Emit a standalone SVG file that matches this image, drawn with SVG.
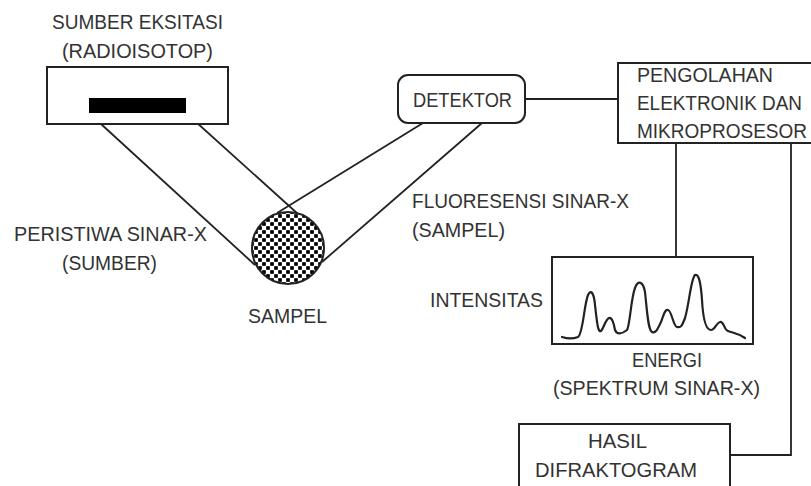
<svg xmlns="http://www.w3.org/2000/svg" width="811" height="486" viewBox="0 0 811 486">
<style>
text{font-family:"Liberation Sans",Arial,sans-serif;font-size:19.5px;fill:#333}
.box{fill:#fff;stroke:#222;stroke-width:2}
.ln{fill:none;stroke:#222;stroke-width:1.8}
.mid{text-anchor:middle}
</style>
<defs>
<pattern id="dots" width="8" height="8" patternUnits="userSpaceOnUse" x="0" y="0">
<rect width="8" height="8" fill="#fff"/>
<path d="M0,0L8,8M8,0L0,8" stroke="#444" stroke-width="0.7"/>
<circle cx="0" cy="0" r="2" fill="#000"/>
<circle cx="8" cy="0" r="2" fill="#000"/>
<circle cx="0" cy="8" r="2" fill="#000"/>
<circle cx="8" cy="8" r="2" fill="#000"/>
<circle cx="4" cy="4" r="2" fill="#000"/>
</pattern>
</defs>
<rect width="811" height="486" fill="#fff"/>

<g id="connectors">
<line class="ln" x1="89" y1="113" x2="255" y2="265"/>
<line class="ln" x1="186" y1="113" x2="298" y2="214"/>
<line class="ln" x1="423" y1="123" x2="277" y2="213"/>
<line class="ln" x1="482" y1="123" x2="322" y2="262"/>
<line class="ln" x1="525" y1="99" x2="618" y2="99"/>
<line class="ln" x1="676" y1="143" x2="676" y2="257"/>
<polyline class="ln" points="791,143 791,455 730,455"/>
</g>

<g id="source">
<text x="52" y="29" textLength="171" lengthAdjust="spacingAndGlyphs">SUMBER EKSITASI</text>
<text x="62" y="58" textLength="151" lengthAdjust="spacingAndGlyphs">(RADIOISOTOP)</text>
<rect class="box" x="47" y="67" width="181" height="57"/>
<rect x="89" y="98" width="97" height="15" fill="#000"/>
</g>

<g id="sample">
<circle cx="288" cy="248" r="36" fill="url(#dots)" stroke="#222" stroke-width="2"/>
<text x="248" y="323" textLength="79" lengthAdjust="spacingAndGlyphs">SAMPEL</text>
</g>

<g id="incident-label">
<text x="14" y="241" textLength="193" lengthAdjust="spacingAndGlyphs">PERISTIWA SINAR-X</text>
<text x="62" y="270" textLength="95" lengthAdjust="spacingAndGlyphs">(SUMBER)</text>
</g>

<g id="fluorescence-label">
<text x="412" y="208" textLength="217" lengthAdjust="spacingAndGlyphs">FLUORESENSI SINAR-X</text>
<text x="412" y="237" textLength="93" lengthAdjust="spacingAndGlyphs">(SAMPEL)</text>
</g>

<g id="detector">
<rect class="box" x="398" y="75" width="127" height="48" rx="10" ry="10"/>
<text x="413" y="107" textLength="99" lengthAdjust="spacingAndGlyphs">DETEKTOR</text>
</g>

<g id="processor">
<rect class="box" x="618" y="63" width="200" height="80"/>
<text x="637" y="82" textLength="136" lengthAdjust="spacingAndGlyphs">PENGOLAHAN</text>
<text x="637" y="110" textLength="165" lengthAdjust="spacingAndGlyphs">ELEKTRONIK DAN</text>
<text x="637" y="138" textLength="170" lengthAdjust="spacingAndGlyphs">MIKROPROSESOR</text>
</g>

<g id="spectrum">
<text x="430" y="307" textLength="113" lengthAdjust="spacingAndGlyphs">INTENSITAS</text>
<rect class="box" x="552" y="257" width="201" height="87"/>
<path d="M562,337 C568,339 573,339 578,337 C583,334 584,305 588,295 C591,289 594,293 595,305 C597,323 598,333 601,331 C604,328 605,320 609,318 C612,317 614,324 615,330 C617,335 622,334 627,330 C630,325 631,298 635,288 C638,280 643,281 645,292 C647,310 648,330 652,332 C656,334 658,328 661,322 C664,314 665,309 668,310 C672,311 673,326 677,327 C681,328 682,326 685,318 C689,305 691,278 695,275 C699,273 701,285 702,300 C703,318 706,330 711,330 C715,330 716,323 720,322 C724,321 724,330 728,331 C733,333 738,333 745,338" fill="none" stroke="#222" stroke-width="2.2" stroke-linejoin="round" stroke-linecap="round"/>
<text x="632" y="367" textLength="70" lengthAdjust="spacingAndGlyphs">ENERGI</text>
<text x="553" y="395" textLength="207" lengthAdjust="spacingAndGlyphs">(SPEKTRUM SINAR-X)</text>
</g>

<g id="result">
<rect class="box" x="519" y="424" width="211" height="70"/>
<text x="588" y="448" textLength="59" lengthAdjust="spacingAndGlyphs">HASIL</text>
<text x="535" y="477" textLength="162" lengthAdjust="spacingAndGlyphs">DIFRAKTOGRAM</text>
</g>
</svg>
